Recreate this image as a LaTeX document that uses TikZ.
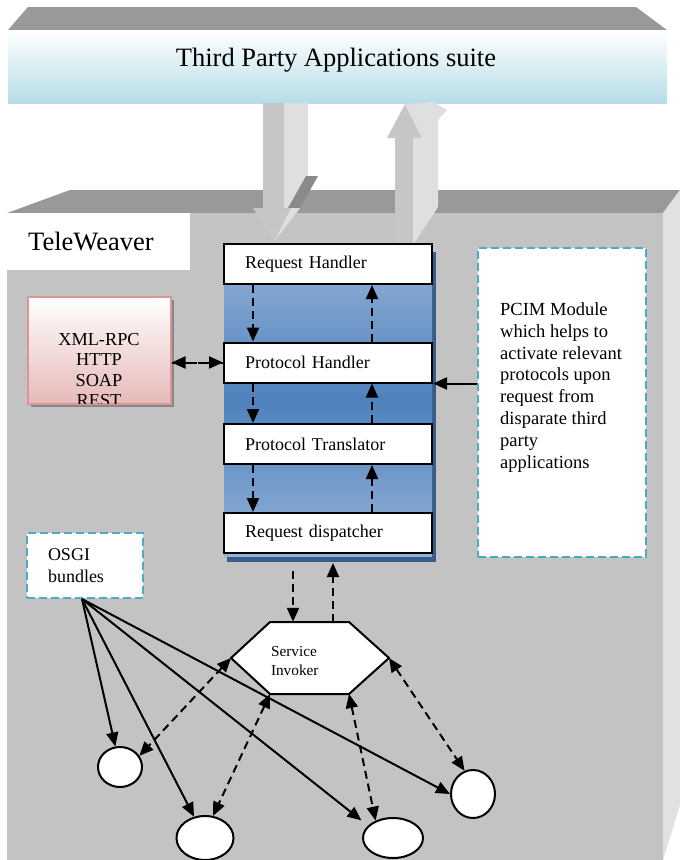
\documentclass[tikz,border=0pt]{standalone}
\usepackage{fontspec}
\setmainfont{Liberation Serif}
\usetikzlibrary{arrows.meta,shapes.geometric,shadows}
\definecolor{topgray}{HTML}{999999}
\definecolor{frontgray}{HTML}{C3C3C3}
\definecolor{sidegray}{HTML}{E1E1E1}
\definecolor{arrowgray}{HTML}{C6C6C6}
\definecolor{arrowside}{HTML}{DFDFDF}
\definecolor{suiteblue}{HTML}{B7DDE8}
\definecolor{stacklight}{HTML}{95B3D7}
\definecolor{stackdark}{HTML}{4F81BD}
\definecolor{stackshadow}{HTML}{385D8A}
\definecolor{protopink}{HTML}{E6B9B8}
\definecolor{protoedge}{HTML}{D99694}
\definecolor{noteblue}{HTML}{4BACC6}

\begin{document}
\begin{tikzpicture}[x=1pt,y=-1pt,>={Triangle[length=14pt,width=12pt]},
  stackbox/.style={draw,line width=2pt,fill=white,minimum width=208pt,minimum height=40pt,text width=166pt,inner xsep=21pt,align=left,font=\fontsize{18}{21}\selectfont},
  notebox/.style={draw=noteblue,fill=white,line width=2pt,dash pattern=on 8pt off 4pt},
  bundle/.style={ellipse,draw,fill=white,line width=2pt,inner sep=0pt},
  dasharrow/.style={->,line width=2pt,dash pattern=on 8pt off 5pt},
  solidarrow/.style={->,line width=2pt}]
\useasboundingbox (0,0) rectangle (680,860);

\fill[topgray] (8,30) -- (28,7) -- (636,7) -- (667,30) -- cycle;
\shade[top color=white,bottom color=suiteblue] (8,30) rectangle (667,103);
\node[font=\fontsize{26.5}{30}\selectfont] (suite) at (336,60) {Third Party Applications suite};

\fill[topgray] (7,213) -- (70,190) -- (680,190) -- (663,213) -- cycle;
\fill[frontgray] (7,213) rectangle (663,860);
\fill[sidegray] (663,213) -- (680,190) -- (680,805) -- (663,860) -- cycle;

\fill[arrowgray] (263,103) rectangle (284,208);
\fill[arrowside] (284,103) -- (308,103) -- (308,176) -- (288,208) -- (284,208) -- cycle;
\fill[topgray!90!black] (288,208) -- (306,176) -- (318,176) -- (300,208) -- cycle;
\fill[arrowgray] (253,208) -- (300,208) -- (274,242) -- cycle;
\fill[arrowside] (274,242) -- (300,208) -- (291,208) -- cycle;
\fill[arrowgray] (405,104) -- (422,138) -- (387,138) -- cycle;
\fill[arrowside] (405,104) -- (433,102) -- (447,110) -- (422,138) -- cycle;
\fill[arrowgray] (395,138) rectangle (413,245);
\fill[arrowside] (413,138) -- (422,138) -- (438,120) -- (438,207) -- (413,245) -- cycle;

\node[fill=white,anchor=north west,minimum width=183pt,minimum height=57pt,text width=141pt,inner xsep=21pt,align=left,font=\fontsize{26.5}{30}\selectfont] (tw) at (7,213) {TeleWeaver};

\fill[stackshadow] (227,252) rectangle (436,562);
\shade[top color=stacklight,bottom color=stacklight,middle color=stackdark] (224,244) rectangle (432,556);
\node[stackbox] (rh) at (328,264) {Request Handler};
\node[stackbox] (ph) at (328,362.5) {Protocol Handler};
\node[stackbox] (pt) at (328,444) {Protocol Translator};
\node[stackbox] (rd) at (328,533) {Request dispatcher};
\draw[dasharrow] ([xshift=-75pt]rh.south) -- ([xshift=-75pt]ph.north);
\draw[dasharrow] ([xshift=-75pt]ph.south) -- ([xshift=-75pt]pt.north);
\draw[dasharrow] ([xshift=-75pt]pt.south) -- ([xshift=-75pt]rd.north);
\draw[dasharrow] ([xshift=44pt]rd.north) -- ([xshift=44pt]pt.south);
\draw[dasharrow] ([xshift=44pt]pt.north) -- ([xshift=44pt]ph.south);
\draw[dasharrow] ([xshift=44pt]ph.north) -- ([xshift=44pt]rh.south);

\node[draw=protoedge,line width=2pt,top color=white,bottom color=protopink,minimum width=143pt,minimum height=107pt,drop shadow={shadow xshift=3pt,shadow yshift=-3pt,fill=black,opacity=.3}] (proto) at (99,350.5) {};
\begin{scope}
\clip (28,298) rectangle (170,403);
\node[align=center,font=\fontsize{18.3}{20.5}\selectfont] (protolist) at (99,370) {XML-RPC\\HTTP\\SOAP\\REST};
\end{scope}
\draw[dasharrow,yshift=12pt] (ph.west) -- (ph.west -| proto.east);
\draw[dasharrow,yshift=-12.5pt] (ph.west -| proto.east) -- (ph.west);

\node[notebox,minimum width=168pt,minimum height=309pt] (pcim) at (562,402.5) {};
\node[anchor=north west,inner sep=0pt,align=left,font=\fontsize{18.5}{21.8}\selectfont] (pcimtext) at (500,302.5) {PCIM Module\\which helps to\\activate relevant\\protocols upon\\request from\\disparate third\\party\\applications};
\draw[solidarrow] (pcim.west |- ph.south) -- (ph.south east);

\node[notebox,minimum width=116pt,minimum height=65pt,text width=74pt,inner xsep=21pt,align=left,font=\fontsize{18}{22}\selectfont] (osgi) at (85,565.5) {OSGI\\bundles};

\coordinate (hexw) at (231,658);
\coordinate (hexnw) at (270,622);
\coordinate (hexne) at (349,622);
\coordinate (hexe) at (389,658);
\coordinate (hexse) at (349,694);
\coordinate (hexsw) at (270,694);
\draw[fill=white,line width=2pt] (hexw) -- (hexnw) -- (hexne) -- (hexe) -- (hexse) -- (hexsw) -- cycle;
\node[minimum width=158pt,minimum height=78pt,text width=78pt,inner xsep=40pt,align=left,font=\fontsize{15.3}{19}\selectfont] (invoker) at (310,661) {Service\\Invoker};
\draw[dasharrow,shorten <=17pt] ([xshift=-35pt]rd.south) -- ([xshift=-17pt]invoker.north);
\draw[dasharrow,shorten >=9pt] ([xshift=23pt]invoker.north) -- ([xshift=5pt]rd.south);

\node[bundle,minimum width=44pt,minimum height=40pt] (bnd1) at (120,767) {};
\node[bundle,minimum width=57pt,minimum height=44pt] (bnd2) at (205,838) {};
\node[bundle,minimum width=60pt,minimum height=40pt] (bnd3) at (393,838) {};
\node[bundle,minimum width=44pt,minimum height=48pt] (bnd4) at (473,794) {};

\path[solidarrow]
  ([xshift=-3pt]osgi.south) edge (bnd1)
  ([xshift=-3pt]osgi.south) edge (bnd2)
  ([xshift=-3pt]osgi.south) edge ([shift={(-8pt,4pt)}]bnd3.150)
  ([xshift=-3pt]osgi.south) edge (bnd4.west);

\path[dasharrow,<->]
  (hexw) edge (bnd1.30)
  (hexsw) edge (bnd2.70)
  (hexse) edge (bnd3.135)
  (hexe) edge (bnd4.110);
\end{tikzpicture}
\end{document}
